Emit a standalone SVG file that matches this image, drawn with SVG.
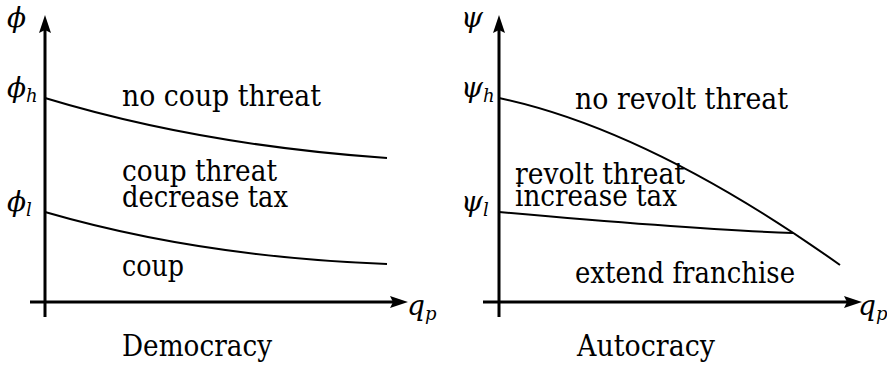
<svg xmlns="http://www.w3.org/2000/svg" width="887" height="365" viewBox="0 0 887 365">
<style>
.t{font-family:"DejaVu Serif","Liberation Serif",serif;font-size:29px;fill:#000}
.m{font-family:"DejaVu Serif","Liberation Serif",serif;font-style:italic;font-size:28px;fill:#000}
.s{font-size:18px}
.ax{stroke:#000;stroke-width:3;fill:none}
.cv{stroke:#000;stroke-width:2;fill:none}
.ah{fill:#000}
</style>
<rect width="887" height="365" fill="#fff"/>
<g id="democracy">
  <g id="dem-axes">
    <line class="ax" x1="45" y1="30" x2="45" y2="317"/>
    <line class="ax" x1="30" y1="302" x2="394" y2="302"/>
    <polygon class="ah" points="45,15 51,33 45,30 39,33"/>
    <polygon class="ah" points="408,302 390,296 393,302 390,308"/>
  </g>
  <g id="dem-curves">
    <path class="cv" d="M45,98 Q200,145 387,158"/>
    <path class="cv" d="M45,212 Q200,257 387,264"/>
  </g>
  <text class="m" x="7" y="27">ϕ</text>
  <text class="m" x="7" y="97">ϕ<tspan class="s" dy="5">h</tspan></text>
  <text class="m" x="7" y="211">ϕ<tspan class="s" dy="5">l</tspan></text>
  <text class="m" x="407" y="315">q<tspan class="s" dy="5">p</tspan></text>
  <text class="t" x="122" y="106" textLength="199" lengthAdjust="spacingAndGlyphs">no coup threat</text>
  <text class="t" x="122" y="181" textLength="155" lengthAdjust="spacingAndGlyphs">coup threat</text>
  <text class="t" x="122" y="207" textLength="166" lengthAdjust="spacingAndGlyphs">decrease tax</text>
  <text class="t" x="122" y="276" textLength="62" lengthAdjust="spacingAndGlyphs">coup</text>
  <text class="t" x="122" y="356" textLength="150" lengthAdjust="spacingAndGlyphs">Democracy</text>
</g>
<g id="autocracy">
  <g id="aut-axes">
    <line class="ax" x1="499" y1="30" x2="499" y2="317"/>
    <line class="ax" x1="483" y1="302" x2="848" y2="302"/>
    <polygon class="ah" points="499,15 505,33 499,30 493,33"/>
    <polygon class="ah" points="862,302 844,296 847,302 844,308"/>
  </g>
  <g id="aut-curves">
    <path class="cv" d="M499,98 Q650,130 840,265"/>
    <path class="cv" d="M499,212 Q700,230 793,233"/>
  </g>
  <text class="m" x="461" y="27">ψ</text>
  <text class="m" x="461" y="97">ψ<tspan class="s" dy="5">h</tspan></text>
  <text class="m" x="461" y="211">ψ<tspan class="s" dy="5">l</tspan></text>
  <text class="m" x="858" y="315">q<tspan class="s" dy="5">p</tspan></text>
  <text class="t" x="575" y="109" textLength="213" lengthAdjust="spacingAndGlyphs">no revolt threat</text>
  <text class="t" x="515" y="184" textLength="170" lengthAdjust="spacingAndGlyphs">revolt threat</text>
  <text class="t" x="515" y="206" textLength="162" lengthAdjust="spacingAndGlyphs">increase tax</text>
  <text class="t" x="575" y="283" textLength="220" lengthAdjust="spacingAndGlyphs">extend franchise</text>
  <text class="t" x="577" y="356" textLength="138" lengthAdjust="spacingAndGlyphs">Autocracy</text>
</g>
</svg>
